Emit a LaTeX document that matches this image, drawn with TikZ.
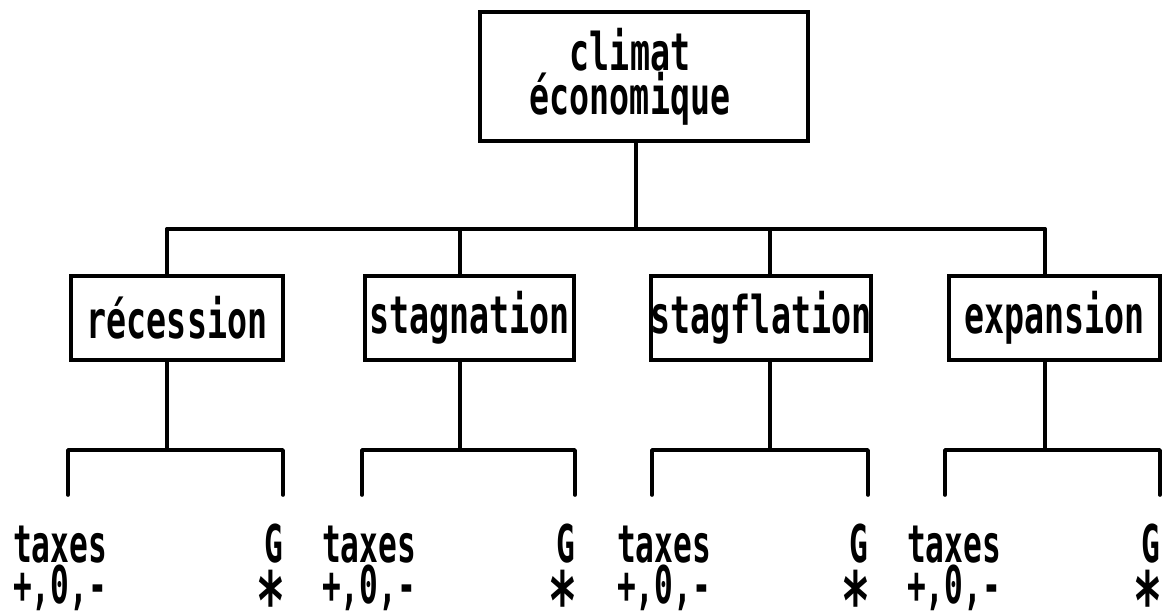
\documentclass[tikz,border=0pt]{standalone}
\usepackage{fontspec}
\newfontfamily\dotfont{DejaVu Sans Mono}[FakeStretch=0.64]
\newfontfamily\dotnarrow{DejaVu Sans Mono}[FakeStretch=0.6]
\newcommand\inkstar{\raisebox{-24pt}[33pt][0pt]{*}}
\begin{document}
\begin{tikzpicture}[x=1pt,y=-1pt,
  every node/.style={inner sep=0pt, font=\dotfont\bfseries\fontsize{52}{42}\selectfont},
  wire/.style={line width=3.6pt, line cap=round, line join=round},
  framebox/.style={draw, line width=4pt},
  lbl/.style={anchor=base west, font=\dotnarrow\bfseries\fontsize{52}{42}\selectfont},
  rlbl/.style={anchor=base east, font=\dotnarrow\bfseries\fontsize{52}{42}\selectfont},
  star/.style={anchor=south, font=\dotnarrow\bfseries\fontsize{80}{80}\selectfont}]
\useasboundingbox (0,0) rectangle (1164,612);

% root of the tree
\node[framebox, align=center, minimum width=328pt, minimum height=129pt] (clim) at (644,76.5)
  {climat\hspace*{28pt}\\économique\hspace*{28pt}};

% horizontal distribution bar
\coordinate (j0) at (636,229);
\coordinate (jL) at (167,229);
\coordinate (jR) at (1045,229);
\draw[wire] (clim.south -| j0) -- (j0);
\draw[wire] (jL) -- (jR);

% the four economic situations, each with its pair of instruments
\foreach \n/\t/\bl/\br/\s/\la/\lb/\tx in {
  rec/récession/69/285/167/68/283/13,
  stg/stagnation/363/576/460/362/575/322,
  sgf/stagflation/652/870/770/652/868/617,
  exp/expansion/947/1162/1045/945/1160/907}{
  \node[framebox, minimum width={\br-\bl-4}, minimum height=84pt] (\n) at ({(\bl+\br)/2},318) {\t};
  \coordinate (\n-top) at (\s,229);
  \coordinate (\n-fork) at (\s,450);
  \coordinate (\n-legA) at (\la,495);
  \coordinate (\n-legB) at (\lb,495);
  \draw[wire] (\n-top) -- (\n.north -| \n-top);
  \draw[wire] (\n.south -| \n-fork) -- (\n-fork);
  \draw[wire] (\n-legA) |- (\n-fork) -| (\n-legB);
  \node[lbl] (\n-tax) at (\tx,562) {taxes};
  \node[lbl] (\n-sgn) at (\tx,603) {+,0,-};
  \node[rlbl] (\n-g) at (\lb,562) {G};
  \node[star] (\n-ast) at ({\lb-12},606) {\inkstar};
}
\end{tikzpicture}
\end{document}
